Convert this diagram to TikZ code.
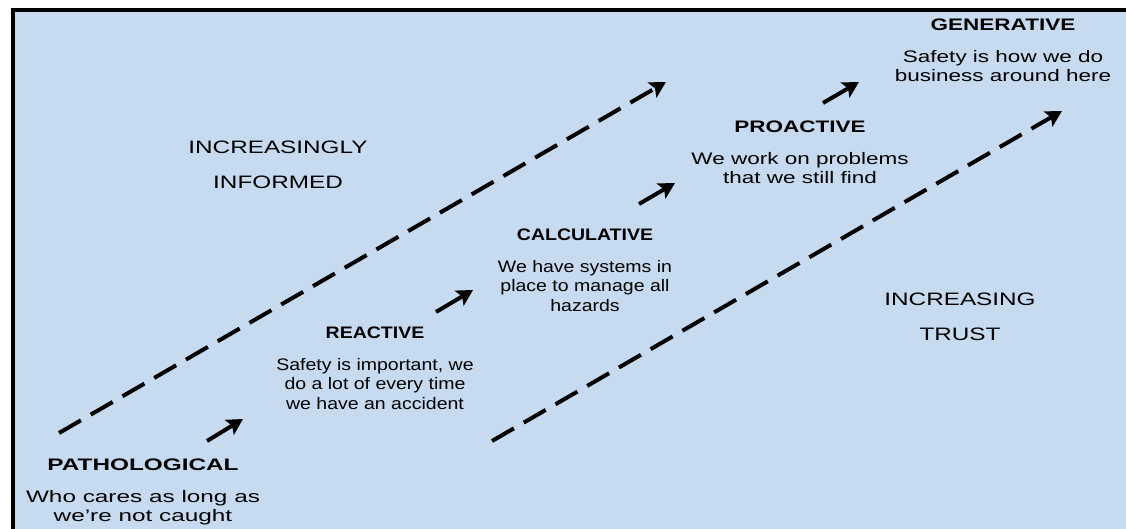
\documentclass[tikz,border=0pt]{standalone}
\usepackage{fontspec}
\newfontfamily\diagfont{Liberation Sans}[FakeStretch=1.35]
\newfontfamily\widefont{Liberation Sans}[FakeStretch=1.46]
\newfontfamily\narrowfont{Liberation Sans}[FakeStretch=1.17]
\usetikzlibrary{arrows.meta,positioning}
\definecolor{paleblue}{RGB}{198,219,239}

\begin{document}
\begin{tikzpicture}[x=0.75pt, y=-0.75pt,
		stagetitle/.style={inner sep=0pt, font=#1\bfseries\fontsize{12.5pt}{14.6pt}\selectfont},
		stagetitle/.default=\diagfont,
		stagetext/.style={inner sep=0pt, align=center, font=#1\fontsize{12.5pt}{14.6pt}\selectfont},
		stagetext/.default=\diagfont,
		trendtext/.style={inner sep=0pt, align=center, font=\diagfont\fontsize{13.5pt}{26pt}\selectfont},
		stagearrow/.style={line width=3pt, -{Stealth[length=12pt,width=13pt,inset=2.5pt]}},
		trendarrow/.style={stagearrow, dash pattern=on 19pt off 8.5pt}]

		% page and frame (right and bottom edge fall outside)
		\useasboundingbox (0,0) rectangle (1126,528);
		\clip (0,0) rectangle (1126,528);
		\fill[white] (0,0) rectangle (1126,528);
		\draw[line width=3pt, fill=paleblue] (13,10) rectangle (1160,560);

		% stages of the ladder
		\node[stagetitle=\widefont] (path) at (143,465) {PATHOLOGICAL};
		\node[stagetext=\widefont, below=14pt of path] (path-txt) {Who cares as long as\\we’re not caught};

		\node[stagetitle=\narrowfont] (react) at (375,333) {REACTIVE};
		\node[stagetext=\narrowfont, below=14pt of react] (react-txt) {Safety is important, we\\do a lot of every time\\we have an accident};

		\node[stagetitle=\narrowfont] (calc) at (585,235) {CALCULATIVE};
		\node[stagetext=\narrowfont, below=14pt of calc] (calc-txt) {We have systems in\\place to manage all\\hazards};

		\node[stagetitle] (pro) at (800,127) {PROACTIVE};
		\node[stagetext, below=14pt of pro] (pro-txt) {We work on problems\\that we still find};

		\node[stagetitle] (gen) at (1003,25) {GENERATIVE};
		\node[stagetext, below=14pt of gen] (gen-txt) {Safety is how we do\\business around here};

		% the two trends
		\node[trendtext] (informed) at (278,165) {INCREASINGLY\\INFORMED};
		\node[trendtext] (trust) at (960,317) {INCREASING\\TRUST};

		% short arrows from stage to stage
		\foreach \name/\ax/\ay/\bx/\by in {path/207/441/243/419, react/436/312/473/290,
				calc/639/204/675/183, pro/823/103/859/82} {
			\coordinate (\name-s) at (\ax,\ay);
			\coordinate (\name-e) at (\bx,\by);
			\draw[stagearrow] (\name-s) -- (\name-e);
		}

		% long dashed arrows
		\coordinate (inf-s) at (59,433);
		\coordinate (inf-e) at (666,82);
		\coordinate (tr-s) at (492,441);
		\coordinate (tr-e) at (1062,111);
		\draw[trendarrow] (inf-s) -- (inf-e);
		\draw[trendarrow] (tr-s) -- (tr-e);

	\end{tikzpicture}
\end{document}
